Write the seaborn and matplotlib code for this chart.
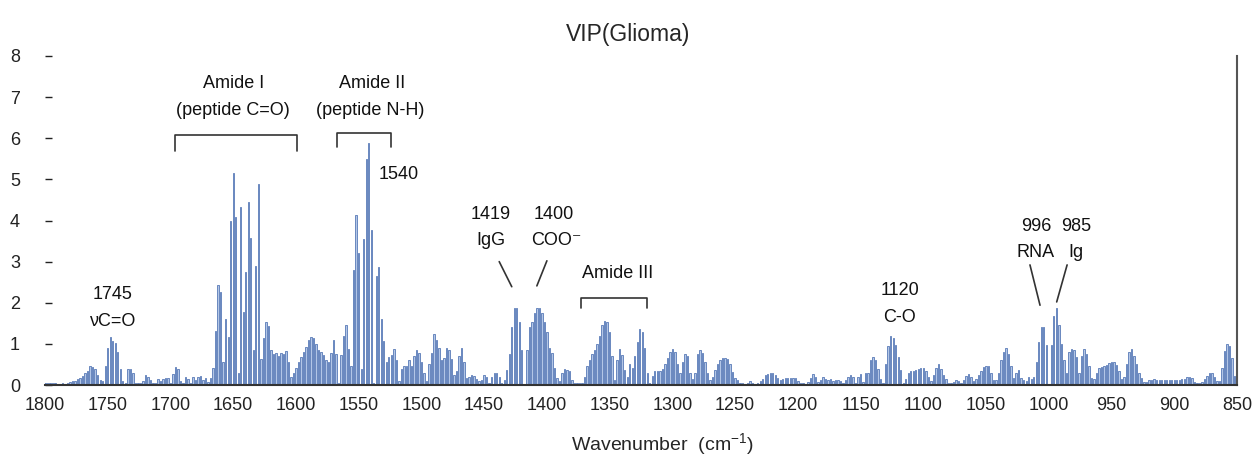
import numpy as np
import pandas as pd
import matplotlib
matplotlib.use('Agg')
import matplotlib.pyplot as plt
import seaborn as sns

# Wavenumber grid (cm-1), 2 cm-1 step from 1800 down to 850
wavenumber = np.arange(1800, 848, -2)

# VIP scores, 25 points (50 cm-1) per row
vip_1800 = [0.05, 0.05, 0.04, 0.04, 0.05, 0.03, 0.03, 0.04, 0.03, 0.06, 0.08, 0.10, 0.10,
            0.15, 0.18, 0.22, 0.28, 0.33, 0.46, 0.43, 0.38, 0.24, 0.12, 0.10, 0.46]
vip_1750 = [0.91, 1.17, 1.06, 1.02, 0.80, 0.40, 0.10, 0.05, 0.38, 0.38, 0.28, 0.06, 0.05,
            0.06, 0.10, 0.24, 0.20, 0.12, 0.06, 0.05, 0.15, 0.10, 0.15, 0.17, 0.18]
vip_1700 = [0.06, 0.27, 0.43, 0.40, 0.10, 0.06, 0.20, 0.14, 0.06, 0.20, 0.12, 0.20, 0.22,
            0.12, 0.16, 0.08, 0.16, 0.42, 1.32, 2.42, 2.25, 0.55, 1.60, 1.17, 4.00]
vip_1650 = [5.15, 4.09, 0.30, 4.34, 1.77, 2.74, 4.45, 3.57, 0.85, 2.90, 4.89, 0.64, 1.15,
            1.54, 1.43, 0.85, 0.75, 0.78, 0.70, 0.78, 0.75, 0.83, 0.57, 0.20, 0.30]
vip_1600 = [0.42, 0.55, 0.68, 0.80, 0.93, 1.10, 1.17, 1.15, 1.00, 0.86, 0.80, 0.72, 0.60,
            0.55, 0.78, 1.10, 0.76, 0.05, 0.74, 1.20, 1.47, 0.88, 0.45, 2.80, 4.13]
vip_1550 = [3.20, 0.40, 3.54, 5.50, 5.89, 3.78, 0.05, 2.66, 2.87, 1.60, 1.06, 0.57, 0.67,
            0.72, 0.87, 0.62, 0.10, 0.40, 0.45, 0.47, 0.60, 0.45, 0.70, 0.85, 0.78]
vip_1500 = [0.55, 0.30, 0.10, 0.50, 0.79, 1.25, 1.10, 0.89, 0.60, 0.65, 0.89, 0.85, 0.64,
            0.25, 0.33, 0.70, 0.90, 0.55, 0.16, 0.20, 0.25, 0.22, 0.15, 0.10, 0.12]
vip_1450 = [0.25, 0.20, 0.05, 0.20, 0.29, 0.30, 0.20, 0.05, 0.12, 0.37, 0.76, 1.42, 1.87,
            1.87, 1.54, 0.85, 0.02, 0.85, 1.40, 1.52, 1.74, 1.88, 1.88, 1.76, 1.53]
vip_1400 = [1.28, 0.91, 0.77, 0.41, 0.17, 0.10, 0.30, 0.38, 0.37, 0.33, 0.12, 0.05, 0.04,
            0.04, 0.04, 0.20, 0.45, 0.62, 0.75, 0.85, 1.00, 1.20, 1.45, 1.56, 1.52]
vip_1350 = [1.30, 0.71, 0.12, 0.60, 0.88, 0.72, 0.37, 0.20, 0.50, 0.42, 0.70, 1.05, 1.35,
            1.30, 0.90, 0.30, 0.05, 0.22, 0.34, 0.34, 0.34, 0.40, 0.50, 0.65, 0.80]
vip_1300 = [0.87, 0.80, 0.50, 0.30, 0.55, 0.75, 0.70, 0.30, 0.14, 0.30, 0.75, 0.85, 0.79,
            0.57, 0.30, 0.12, 0.20, 0.37, 0.50, 0.60, 0.66, 0.66, 0.63, 0.52, 0.32]
vip_1250 = [0.17, 0.12, 0.06, 0.04, 0.03, 0.06, 0.10, 0.06, 0.03, 0.06, 0.10, 0.14, 0.24,
            0.26, 0.28, 0.28, 0.25, 0.17, 0.12, 0.14, 0.17, 0.18, 0.18, 0.17, 0.16]
vip_1200 = [0.10, 0.06, 0.04, 0.03, 0.08, 0.17, 0.26, 0.20, 0.08, 0.12, 0.20, 0.14, 0.12,
            0.14, 0.10, 0.12, 0.12, 0.10, 0.04, 0.12, 0.20, 0.24, 0.20, 0.06, 0.20]
vip_1150 = [0.27, 0.08, 0.30, 0.30, 0.60, 0.68, 0.60, 0.40, 0.15, 0.04, 0.50, 0.95, 1.18,
            1.14, 0.98, 0.68, 0.37, 0.04, 0.14, 0.30, 0.35, 0.35, 0.37, 0.38, 0.41]
vip_1100 = [0.41, 0.35, 0.20, 0.10, 0.25, 0.42, 0.50, 0.38, 0.24, 0.14, 0.06, 0.04, 0.08,
            0.12, 0.10, 0.06, 0.12, 0.23, 0.26, 0.20, 0.10, 0.15, 0.24, 0.35, 0.43]
vip_1050 = [0.47, 0.45, 0.30, 0.12, 0.12, 0.30, 0.60, 0.81, 0.90, 0.75, 0.45, 0.17, 0.30,
            0.37, 0.17, 0.12, 0.10, 0.20, 0.14, 0.20, 0.55, 1.05, 1.41, 1.41, 0.98]
vip_1000 = [0.02, 0.98, 1.68, 1.88, 1.45, 1.00, 0.60, 0.30, 0.81, 0.87, 0.85, 0.69, 0.30,
            0.70, 0.87, 0.75, 0.45, 0.17, 0.14, 0.28, 0.41, 0.43, 0.45, 0.49, 0.53]
vip_950 = [0.57, 0.57, 0.49, 0.33, 0.14, 0.20, 0.50, 0.80, 0.87, 0.70, 0.50, 0.30, 0.18,
           0.08, 0.08, 0.12, 0.12, 0.14, 0.12, 0.12, 0.12, 0.12, 0.12, 0.12, 0.12]
vip_900 = [0.12, 0.13, 0.13, 0.14, 0.14, 0.20, 0.20, 0.18, 0.08, 0.05, 0.04, 0.08, 0.15,
           0.22, 0.29, 0.29, 0.20, 0.10, 0.10, 0.42, 0.82, 1.00, 0.96, 0.66, 0.22]
vip_850 = [0.17]

xtick_values = [1800, 1750, 1700, 1650, 1600, 1550, 1500, 1450, 1400, 1350,
                1300, 1250, 1200, 1150, 1100, 1050, 1000, 950, 900, 850]
ytick_values = [0, 1, 2, 3, 4, 5, 6, 7, 8]

vip = (vip_1800 + vip_1750 + vip_1700 + vip_1650 + vip_1600 + vip_1550 + vip_1500
       + vip_1450 + vip_1400 + vip_1350 + vip_1300 + vip_1250 + vip_1200 + vip_1150
       + vip_1100 + vip_1050 + vip_1000 + vip_950 + vip_900 + vip_850)
df = pd.DataFrame({'wavenumber': wavenumber, 'vip': vip})

sns.set_theme(style='white')
plt.rcParams['font.family'] = ['Liberation Sans', 'DejaVu Sans']
plt.rcParams['mathtext.fontset'] = 'custom'
plt.rcParams['mathtext.rm'] = 'Liberation Sans'

fig = plt.figure(figsize=(12.55, 4.63), dpi=100)
ax = fig.add_axes([45 / 1255, 78 / 463, 1192 / 1255, 329 / 463])

sns.barplot(data=df, x='wavenumber', y='vip', native_scale=True, errorbar=None,
            color='#b3c6e6', saturation=1, width=0.55,
            edgecolor='#3d64ab', linewidth=0.5, ax=ax)

ax.set_xlim(1800, 850)
ax.set_ylim(0, 8)
ax.set_xticks(xtick_values)
ax.set_xticklabels([str(v) for v in xtick_values])
ax.set_yticks(ytick_values)
ax.set_yticklabels([str(v) for v in ytick_values])
ax.tick_params(axis='x', bottom=False, length=0, pad=9, labelsize=13, colors='#222222')
ax.tick_params(axis='y', left=True, direction='in', length=5, width=1, pad=18,
               labelsize=13, colors='#222222')
ax.set_xlabel('')
ax.set_ylabel('')

for side in ['top', 'left']:
    ax.spines[side].set_visible(False)
ax.spines['bottom'].set_color('#333333')
ax.spines['bottom'].set_linewidth(1.5)
ax.spines['right'].set_color('#555555')
ax.spines['right'].set_linewidth(1.5)

fig.text(628 / 1255, 1 - 34 / 463, 'VIP(Glioma)', ha='center', va='center', fontsize=16.5)
ax.text(0.518, -0.14, 'Wavenumber  (cm$^{-1}$)', transform=ax.transAxes,
        ha='center', va='top', fontsize=14)

line_kw = dict(color='#333333', lw=1.2, clip_on=False)
txt_kw = dict(ha='center', va='center', fontsize=13, color='#111111')

# Amide I / Amide II
ax.text(1650, 7.32, 'Amide I', **txt_kw)
ax.text(1650, 6.68, '(peptide C=O)', **txt_kw)
ax.plot([1696, 1696, 1599, 1599], [5.7, 6.07, 6.07, 5.7], **line_kw)
ax.text(1539, 7.32, 'Amide II', **txt_kw)
ax.text(1541, 6.68, '(peptide N-H)', **txt_kw)
ax.plot([1567, 1567, 1524, 1524], [5.78, 6.12, 6.12, 5.78], **line_kw)
ax.text(1518.5, 5.12, '1540', **txt_kw)

# 1745
ax.text(1746, 2.19, '1745', **txt_kw)
ax.text(1746, 1.55, '\u03bdC=O', **txt_kw)

# 1419 / 1400
ax.text(1444.5, 4.14, '1419', **txt_kw)
ax.text(1444.5, 3.51, 'IgG', **txt_kw)
ax.text(1394.3, 4.14, '1400', **txt_kw)
ax.text(1392.7, 3.51, 'COO\u207b', **txt_kw)
ax.plot([1438, 1428], [3.0, 2.39], **line_kw)
ax.plot([1400, 1408], [3.02, 2.41], **line_kw)

# Amide III
ax.text(1343.3, 2.72, 'Amide III', **txt_kw)
ax.plot([1372.8, 1372.8, 1320.2, 1320.2], [1.87, 2.11, 2.11, 1.87], **line_kw)

# 1120
ax.text(1118.6, 2.31, '1120', **txt_kw)
ax.text(1118.6, 1.65, 'C-O', **txt_kw)

# 996 / 985
ax.text(1010.2, 3.85, '996', **txt_kw)
ax.text(1010.2, 3.21, 'RNA', **txt_kw)
ax.text(978.3, 3.85, '985', **txt_kw)
ax.text(978.3, 3.21, 'Ig', **txt_kw)
ax.plot([1015, 1007], [2.92, 1.94], **line_kw)
ax.plot([985.4, 993.7], [2.92, 2.02], **line_kw)

fig.savefig('out.png', dpi=100)
plt.close(fig)
